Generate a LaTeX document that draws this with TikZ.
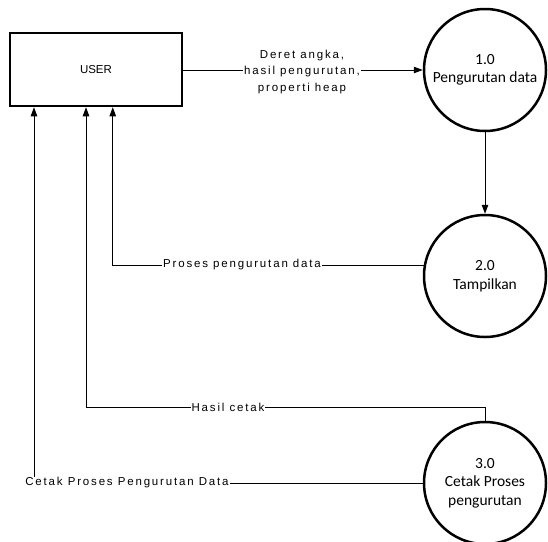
\documentclass[tikz,border=0pt]{standalone}
\usepackage{fontspec}
\setmainfont{Carlito}
\newfontfamily\lblfont[LetterSpace=16]{Liberation Sans}
\newfontfamily\boxfont{Liberation Sans}
\usetikzlibrary{arrows.meta}
\begin{document}
\begin{tikzpicture}[x=1pt,y=-1pt,
  proc/.style={circle,draw,line width=2.5pt,minimum size=122pt,inner sep=0pt,
    align=center,font=\fontsize{15.5}{18.5}\selectfont},
  ent/.style={rectangle,draw,line width=2.5pt,minimum width=172pt,minimum height=73pt,
    inner sep=0pt,font=\boxfont\fontsize{11.5}{13}\selectfont},
  flow/.style={line width=0.9pt,-{Triangle[length=9pt,width=6.5pt]}},
  plain/.style={line width=0.9pt},
  lbl/.style={fill=white,inner sep=1pt,align=center,font=\lblfont\fontsize{11.5}{16.5}\selectfont}]
\useasboundingbox (0,0) rectangle (548,541);
\node[ent] (user) at (96,69.5) {USER};
\node[proc] (c1) at (485,70) {1.0\\Pengurutan data};
\node[proc] (c2) at (485,276) {2.0\\Tampilkan};
\node[proc] (c3) at (485,483) {3.0\\Cetak Proses\\pengurutan};
\coordinate (hc) at (86,407);
\coordinate (cp) at (34,483);
% flows
\draw[flow] (user.east |- c1.west) -- (c1.west);
\draw[flow] (c1.south) -- (c2.north);
\draw[flow] (c2.170) -| ([xshift=104pt]user.south west);
\draw[plain] (c3.north) |- (hc);
\draw[flow] (hc) -- (hc |- user.south);
\draw[plain] (c3.west) -- (cp);
\draw[flow] (cp) -- (cp |- user.south);
% labels
\node[lbl] (l1) at (302,72) {Deret angka,\\hasil pengurutan,\\properti heap};
\node[lbl] (l2) at (242,265) {Proses pengurutan data};
\node[lbl] (l3) at (228,407) {Hasil cetak};
\node[lbl] (l4) at (127,483) {Cetak Proses Pengurutan Data};
\end{tikzpicture}
\end{document}
